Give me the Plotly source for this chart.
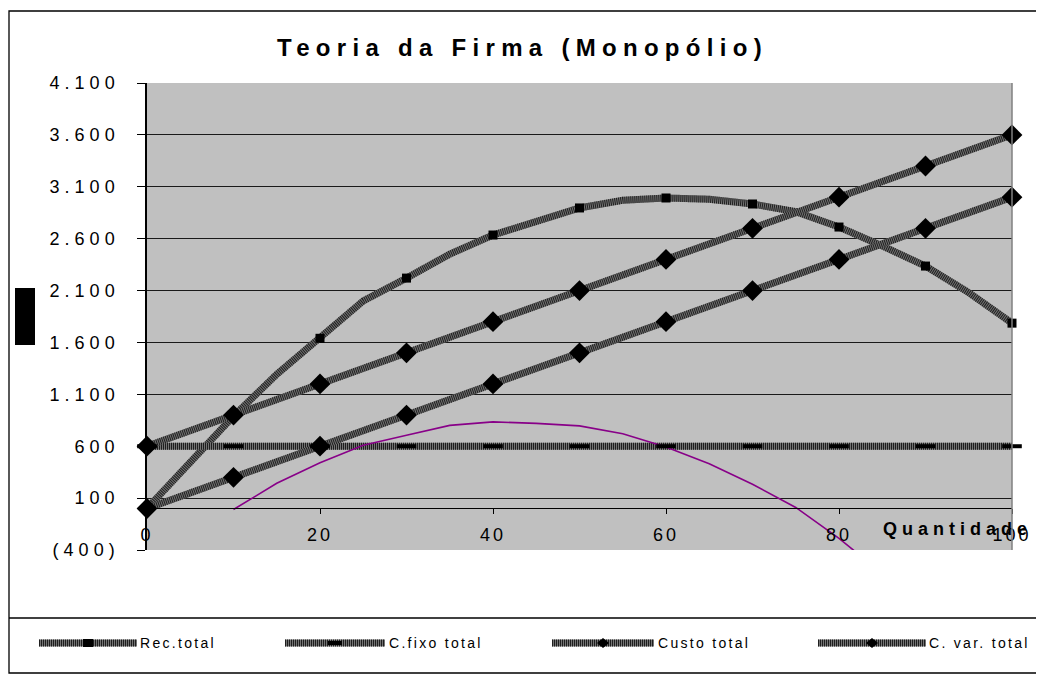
import plotly.graph_objects as go

# ---------------- data ----------------
q_rec = [0, 5, 10, 15, 20, 25, 30, 35, 40, 45, 50, 55, 60, 65, 70, 75, 80, 85, 90, 95, 100]
rec_total = [0, 453, 890, 1293, 1640, 2000, 2220, 2451, 2635, 2770, 2896, 2970, 2992,
             2980, 2934, 2860, 2712, 2530, 2336, 2080, 1786]

q10 = [0, 10, 20, 30, 40, 50, 60, 70, 80, 90, 100]
c_fixo_total = [600, 600, 600, 600, 600, 600, 600, 600, 600, 600, 600]
custo_total = [600, 900, 1200, 1500, 1800, 2100, 2400, 2700, 3000, 3300, 3600]
c_var_total = [0, 300, 600, 900, 1200, 1500, 1800, 2100, 2400, 2700, 3000]

q_lucro = [10, 15, 20, 25, 30, 35, 40, 45, 50, 55, 60, 65, 70, 75, 80, 85, 90, 95, 100]
lucro = [-10, 243, 440, 610, 705, 801, 835, 820, 796, 720, 592, 430, 234, 10, -288,
         -620, -964, -1370, -1814]

y_ticks = [-400, 100, 600, 1100, 1600, 2100, 2600, 3100, 3600, 4100]
y_ticklabels = ["(400)", "100", "600", "1.100", "1.600", "2.100", "2.600", "3.100", "3.600", "4.100"]
x_ticks = [0, 20, 40, 60, 80, 100]
x_ticklabels = ["0", "20", "40", "60", "80", "100"]

series_names = ["Rec.total", "C.fixo total", "Custo total", "C. var. total"]
title_text = "Teoria da Firma (Monopólio)"
x_title = "Quantidade"

# ---------------- layout geometry (page pixels) ----------------
W, H = 1044, 677
OFF = 8                                # page body margin
PL, PR, PT, PB = 147, 1012, 83, 550    # plot area edges on the page


def px2x(X):
    return (X - PL) / (PR - PL)


def px2y(Y):
    return (PB - Y) / (PB - PT)


FONT = "Liberation Sans, Arial, sans-serif"


def spaced(txt, ls):
    return f'<span style="letter-spacing:{ls}px">{txt}</span>'


fig = go.Figure()

LINE_BASE = "#737373"
LINE_STRIPE = "#1e1e1e"
LW = 7


def hatched(x, y):
    fig.add_trace(go.Scatter(x=x, y=y, mode="lines", line=dict(color=LINE_BASE, width=LW),
                             hoverinfo="skip", showlegend=False))
    fig.add_trace(go.Scatter(x=x, y=y, mode="lines",
                             line=dict(color=LINE_STRIPE, width=LW, dash="1px,1px"),
                             hoverinfo="skip", showlegend=False))


hatched(q_rec, rec_total)
hatched(q10, c_fixo_total)
hatched(q10, custo_total)
hatched(q10, c_var_total)

# profit curve (purple, thin)
fig.add_trace(go.Scatter(x=q_lucro, y=lucro, mode="lines",
                         line=dict(color="#880088", width=1.6), showlegend=False))

# markers
fig.add_trace(go.Scatter(x=q_rec[::2], y=rec_total[::2], mode="markers", name=series_names[0],
                         marker=dict(symbol="square", size=9, color="black"),
                         cliponaxis=False, showlegend=False))
fig.add_trace(go.Scatter(x=q10, y=c_fixo_total, mode="markers", name=series_names[1],
                         marker=dict(symbol="line-ew", size=14, color="black",
                                     line=dict(color="black", width=4)),
                         cliponaxis=False, showlegend=False))
fig.add_trace(go.Scatter(x=q10, y=custo_total, mode="markers", name=series_names[2],
                         marker=dict(symbol="diamond", size=16, color="black"),
                         cliponaxis=False, showlegend=False))
fig.add_trace(go.Scatter(x=q10, y=c_var_total, mode="markers", name=series_names[3],
                         marker=dict(symbol="diamond", size=16, color="black"),
                         cliponaxis=False, showlegend=False))

shapes = []
annotations = []

# plot-area border (gray) on right
shapes.append(dict(type="line", xref="paper", yref="paper", x0=1, x1=1, y0=0, y1=1,
                   line=dict(color="#808080", width=1.5)))

# outer chart frame
shapes.append(dict(type="rect", xref="paper", yref="paper",
                   x0=px2x(9), x1=px2x(1038), y0=px2y(673), y1=px2y(11),
                   line=dict(color="black", width=1.3), layer="below"))
shapes.append(dict(type="line", xref="paper", yref="paper",
                   x0=px2x(9), x1=px2x(1044), y0=px2y(618), y1=px2y(618),
                   line=dict(color="black", width=1.3)))
shapes.append(dict(type="line", xref="paper", yref="paper",
                   x0=px2x(1043), x1=px2x(1043), y0=px2y(618), y1=px2y(677),
                   line=dict(color="#909090", width=1.5)))

# black block where the y-axis title would be
shapes.append(dict(type="rect", xref="paper", yref="paper",
                   x0=px2x(15), x1=px2x(35), y0=px2y(345), y1=px2y(288),
                   fillcolor="black", line=dict(width=0)))

# ---------------- legend (drawn) ----------------
leg_y = 643
leg_items = [
    (39, 137, 138, "square"),
    (285, 385, 387, "bar"),
    (552, 654, 656, "diamond"),
    (818, 926, 927, "diamond"),
]
for (sx0, sx1, tx, mk), name in zip(leg_items, series_names):
    for col, dash in ((LINE_BASE, "solid"), (LINE_STRIPE, "1px,1px")):
        shapes.append(dict(type="line", xref="paper", yref="paper",
                           x0=px2x(sx0), x1=px2x(sx1), y0=px2y(leg_y), y1=px2y(leg_y),
                           line=dict(color=col, width=LW, dash=dash)))
    cx = (sx0 + sx1) / 2
    if mk == "square":
        shapes.append(dict(type="rect", xref="paper", yref="paper",
                           x0=px2x(cx - 5), x1=px2x(cx + 5), y0=px2y(leg_y + 4), y1=px2y(leg_y - 4),
                           fillcolor="black", line=dict(width=0)))
    elif mk == "bar":
        shapes.append(dict(type="rect", xref="paper", yref="paper",
                           x0=px2x(cx - 7), x1=px2x(cx + 7), y0=px2y(leg_y + 2), y1=px2y(leg_y - 2),
                           fillcolor="black", line=dict(width=0)))
    else:
        pts = [(cx - 6, leg_y), (cx, leg_y - 5), (cx + 6, leg_y), (cx, leg_y + 5)]
        path = "M " + " L ".join(f"{px2x(a)},{px2y(b)}" for a, b in pts) + " Z"
        shapes.append(dict(type="path", xref="paper", yref="paper", path=path,
                           fillcolor="black", line=dict(width=0)))
    annotations.append(dict(xref="paper", yref="paper", x=px2x(tx), y=px2y(leg_y),
                            xanchor="left", yanchor="middle", showarrow=False,
                            text=spaced(name, 2.3),
                            font=dict(family=FONT, size=14, color="black")))

# title
annotations.append(dict(xref="paper", yref="paper", x=px2x(522), y=px2y(47),
                        xanchor="center", yanchor="middle", showarrow=False,
                        text="<b>" + spaced(title_text, 6.3) + "</b>",
                        font=dict(family=FONT, size=24, color="black")))
# x axis title
annotations.append(dict(xref="paper", yref="paper", x=px2x(957), y=px2y(529),
                        xanchor="center", yanchor="middle", showarrow=False,
                        text="<b>" + spaced(x_title, 5) + "</b>",
                        font=dict(family=FONT, size=18, color="black")))

fig.update_layout(
    width=W, height=H,
    margin=dict(l=PL - OFF, r=W + OFF - PR, t=PT - OFF, b=H + OFF - PB, pad=0, autoexpand=False),
    paper_bgcolor="white",
    plot_bgcolor="#c0c0c0",
    showlegend=False,
    shapes=shapes,
    annotations=annotations,
    xaxis=dict(range=[0, 100], tickvals=x_ticks,
               ticktext=[spaced(t, 3) for t in x_ticklabels],
               anchor="free", position=400 / 4500,
               showline=True, linecolor="black", linewidth=1,
               ticks="outside", ticklen=5, tickcolor="black", ticklabelstandoff=5,
               showgrid=False, zeroline=False,
               tickfont=dict(family=FONT, size=18, color="black"),
               automargin=False, fixedrange=True),
    yaxis=dict(range=[-400, 4100], tickvals=y_ticks,
               ticktext=[spaced(t, 5) for t in y_ticklabels],
               showline=True, linecolor="black", linewidth=1.5,
               ticks="outside", ticklen=8, tickcolor="black", ticklabelstandoff=14,
               showgrid=True, gridcolor="#1a1a1a", gridwidth=1,
               zeroline=False,
               tickfont=dict(family=FONT, size=18, color="black"),
               automargin=False, fixedrange=True),
)

fig.write_html("out.html")
